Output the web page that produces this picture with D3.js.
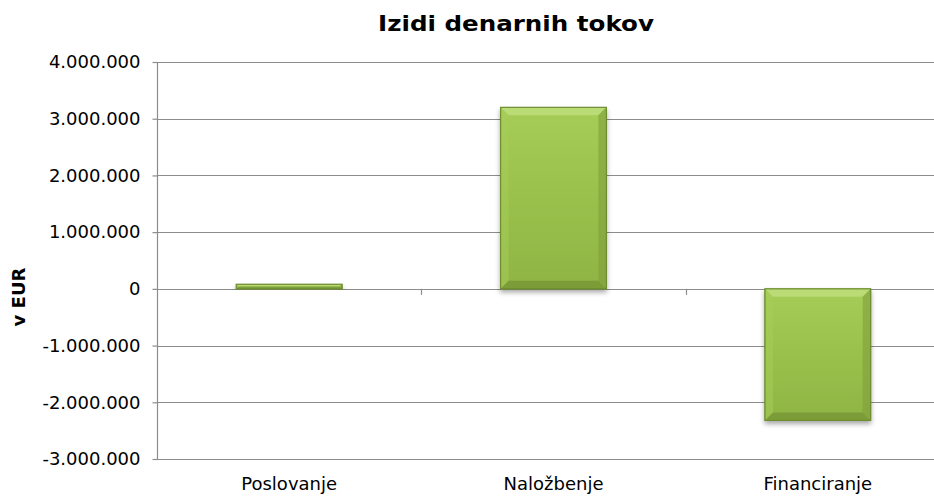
<!DOCTYPE html>
<html>
<head>
<meta charset="utf-8">
<script src="https://cdn.jsdelivr.net/npm/d3@7"></script>
<style>
  body { margin: 0; background: #fff; }
  svg text { font-family: "DejaVu Sans", Verdana, sans-serif; fill: #000; }
</style>
</head>
<body>
<div id="chart"></div>
<script>
// chart data
const categories = ["Poslovanje", "Naložbenje", "Financiranje"];
const values = [80000, 3200000, -2320000];
const yTicks = [-3000000, -2000000, -1000000, 0, 1000000, 2000000, 3000000, 4000000];
const chartTitle = "Izidi denarnih tokov";
const yTitle = "v EUR";

const W = 934, H = 497;
const margin = {top: 62, right: -16, bottom: 38, left: 157};
const width = W - margin.left - margin.right;
const height = H - margin.top - margin.bottom;

const fmt = d => d3.format(",")(d).replace(/,/g, ".").replace("−", "-");

const svg = d3.select("#chart").append("svg")
  .attr("width", W).attr("height", H);

const defs = svg.append("defs");
const grad = defs.append("linearGradient").attr("id", "barGrad")
  .attr("x1", "0").attr("x2", "0").attr("y1", "0").attr("y2", "1");
grad.append("stop").attr("offset", "0%").attr("stop-color", "#a5cd56");
grad.append("stop").attr("offset", "100%").attr("stop-color", "#8fb443");

const shadow = defs.append("filter").attr("id", "shadow")
  .attr("x", "-20%").attr("y", "-20%").attr("width", "140%").attr("height", "140%");
shadow.append("feDropShadow").attr("dx", 0).attr("dy", 3).attr("stdDeviation", 2.5)
  .attr("flood-color", "#000").attr("flood-opacity", 0.35);

const g = svg.append("g").attr("transform", `translate(${margin.left},${margin.top})`);

const x = d3.scaleBand().domain(categories).range([0, width]).paddingInner(0.6).paddingOuter(0.3);
const xb = d3.scaleBand().domain(categories).range([0, width]);
const y = d3.scaleLinear().domain([-3000000, 4000000]).range([height, 0]);

// gridlines
g.append("g").selectAll("line").data(yTicks).enter().append("line")
  .attr("x1", 0).attr("x2", width)
  .attr("y1", d => Math.round(y(d)) + 0.5).attr("y2", d => Math.round(y(d)) + 0.5)
  .attr("stroke", "#8c8c8c").attr("stroke-width", 1.2);

// y axis
const yAxis = g.append("g").attr("transform", "translate(0.5,0)")
  .call(d3.axisLeft(y).tickValues(yTicks).tickFormat(fmt).tickSize(5).tickPadding(12));
yAxis.selectAll("path, line").attr("stroke", "#8c8c8c").attr("stroke-width", 1.2);
yAxis.select(".domain").attr("d", `M0,${y(4000000)}V${height}`);
yAxis.selectAll("text").style("font-size", "18px").style("font-family", "DejaVu Sans");

// category ticks on zero line
g.append("g").selectAll("line").data(categories.slice(1)).enter().append("line")
  .attr("x1", d => Math.round(xb(d)) + 0.5).attr("x2", d => Math.round(xb(d)) + 0.5)
  .attr("y1", y(0)).attr("y2", y(0) + 6)
  .attr("stroke", "#8c8c8c").attr("stroke-width", 1.2);

// bars
const bars = g.append("g").selectAll("g").data(categories).enter().append("g");
const bw = x.bandwidth();
const barTop = (d, i) => y(Math.max(0, values[i]));
const barH = (d, i) => Math.abs(y(values[i]) - y(0));

bars.append("rect")
  .attr("x", d => x(d)).attr("y", barTop)
  .attr("width", bw).attr("height", barH)
  .attr("fill", "url(#barGrad)").attr("stroke", "#6d8c30").attr("stroke-width", 1)
  .attr("filter", "url(#shadow)");

// bevel edges
const bev = 8;
function bevel(d, i, side) {
  const x0 = x(d), x1 = x(d) + bw, y0 = barTop(d, i), y1 = barTop(d, i) + barH(d, i);
  const b = Math.min(bev, (y1 - y0) / 2);
  if (side === "top") return `M${x0},${y0}L${x1},${y0}L${x1 - b},${y0 + b}L${x0 + b},${y0 + b}Z`;
  if (side === "left") return `M${x0},${y0}L${x0 + b},${y0 + b}L${x0 + b},${y1 - b}L${x0},${y1}Z`;
  if (side === "right") return `M${x1},${y0}L${x1},${y1}L${x1 - b},${y1 - b}L${x1 - b},${y0 + b}Z`;
  return `M${x0},${y1}L${x0 + b},${y1 - b}L${x1 - b},${y1 - b}L${x1},${y1}Z`;
}
const sides = [["top", "#c2e082", 0.75], ["left", "#a8ce5a", 0.5], ["right", "#809f3c", 0.6], ["bottom", "#718f32", 0.65]];
sides.forEach(([s, c, o]) => {
  bars.append("path").attr("d", (d, i) => bevel(d, i, s)).attr("fill", c).attr("opacity", o);
});
bars.append("rect")
  .attr("x", d => x(d)).attr("y", barTop)
  .attr("width", bw).attr("height", barH)
  .attr("fill", "none").attr("stroke", "#6d8c30").attr("stroke-width", 1);

// category labels
g.append("g").selectAll("text").data(categories).enter().append("text")
  .attr("x", d => xb(d) + xb.bandwidth() / 2).attr("y", height + 31)
  .attr("text-anchor", "middle").style("font-size", "18px")
  .text(d => d);

// titles
svg.append("text").attr("transform", "translate(516,31) scale(1.17,1)")
  .attr("text-anchor", "middle")
  .style("font-size", "21px").style("font-weight", "bold").text(chartTitle);

svg.append("text").attr("transform", "translate(25,297) rotate(-90)")
  .attr("text-anchor", "middle").style("font-size", "18px").style("font-weight", "bold")
  .text(yTitle);
</script>
</body>
</html>
